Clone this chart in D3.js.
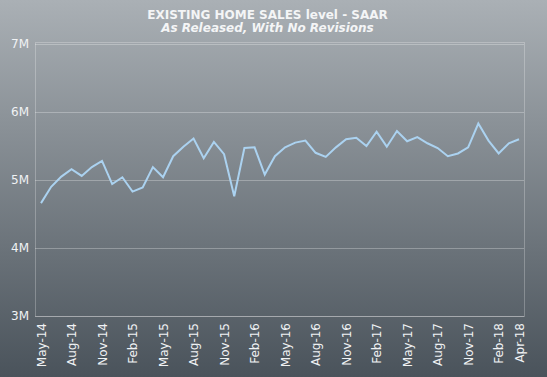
<!DOCTYPE html>
<html>
<head>
<meta charset="utf-8">
<script src="https://cdnjs.cloudflare.com/ajax/libs/d3/7.8.5/d3.min.js"></script>
<style>
  html, body { margin: 0; padding: 0; }
  body { width: 547px; height: 377px; overflow: hidden; }
  text { font-family: "DejaVu Sans", Verdana, sans-serif; }
</style>
</head>
<body>
<div id="chart"></div>
<script>
// months shown on the x axis (as released)
const months = [
  'May-14','Jun-14','Jul-14','Aug-14','Sep-14','Oct-14','Nov-14','Dec-14',
  'Jan-15','Feb-15','Mar-15','Apr-15','May-15','Jun-15','Jul-15','Aug-15',
  'Sep-15','Oct-15','Nov-15','Dec-15','Jan-16','Feb-16','Mar-16','Apr-16',
  'May-16','Jun-16','Jul-16','Aug-16','Sep-16','Oct-16','Nov-16','Dec-16',
  'Jan-17','Feb-17','Mar-17','Apr-17','May-17','Jun-17','Jul-17','Aug-17',
  'Sep-17','Oct-17','Nov-17','Dec-17','Jan-18','Feb-18','Mar-18','Apr-18'
];
// existing home sales, millions, SAAR
const sales = [
  4.66, 4.90, 5.05, 5.16, 5.06, 5.19, 5.28, 4.94,
  5.04, 4.83, 4.89, 5.19, 5.04, 5.35, 5.49, 5.61,
  5.32, 5.56, 5.38, 4.76, 5.47, 5.48, 5.08, 5.35,
  5.48, 5.55, 5.58, 5.40, 5.34, 5.48, 5.60, 5.62,
  5.50, 5.71, 5.49, 5.72, 5.57, 5.63, 5.54, 5.47,
  5.35, 5.39, 5.48, 5.83, 5.58, 5.39, 5.54, 5.60
];
const tickLabels = ['May-14','Aug-14','Nov-14','Feb-15','May-15','Aug-15','Nov-15','Feb-16',
  'May-16','Aug-16','Nov-16','Feb-17','May-17','Aug-17','Nov-17','Feb-18','Apr-18'];
const yTicks = [3, 4, 5, 6, 7];

const width = 547, height = 377;
const box = {left: 35, top: 42, right: 524, bottom: 316};

const svg = d3.select('#chart').append('svg')
  .attr('width', width)
  .attr('height', height);

const defs = svg.append('defs');
const grad = defs.append('linearGradient')
  .attr('id', 'bg')
  .attr('x1', 0).attr('y1', 0).attr('x2', 0).attr('y2', 1);
grad.append('stop').attr('offset', '0%').attr('stop-color', '#aab0b5');
grad.append('stop').attr('offset', '100%').attr('stop-color', '#4a535b');

svg.append('rect')
  .attr('width', width)
  .attr('height', height)
  .attr('fill', 'url(#bg)');

const x = d3.scalePoint()
  .domain(months)
  .range([41, 519]);
const y = d3.scaleLinear()
  .domain([3, 7])
  .range([box.bottom, 44]);

// gridlines
svg.append('g')
  .selectAll('line')
  .data(yTicks)
  .join('line')
  .attr('x1', box.left)
  .attr('x2', box.right)
  .attr('y1', d => y(d) + 0.5)
  .attr('y2', d => y(d) + 0.5)
  .attr('stroke', 'rgba(255,255,255,0.28)')
  .attr('stroke-width', 1);

// plot border
svg.append('rect')
  .attr('x', box.left + 0.5)
  .attr('y', box.top + 0.5)
  .attr('width', box.right - box.left)
  .attr('height', box.bottom - box.top)
  .attr('fill', 'none')
  .attr('stroke', 'rgba(255,255,255,0.25)');

// y axis labels
const yAxis = d3.axisLeft(y)
  .tickValues(yTicks)
  .tickSize(0)
  .tickPadding(6)
  .tickFormat(d => d + 'M');
svg.append('g')
  .attr('transform', `translate(${box.left},0)`)
  .call(yAxis)
  .call(g => g.select('.domain').remove())
  .call(g => g.selectAll('text')
    .attr('fill', '#f0f2f4')
    .style('font-size', '12px')
    .style('font-family', '"DejaVu Sans", Verdana, sans-serif'));

// x axis labels
const xAxis = d3.axisBottom(x)
  .tickValues(tickLabels)
  .tickSize(0);
svg.append('g')
  .attr('transform', `translate(0,${box.bottom})`)
  .call(xAxis)
  .call(g => g.select('.domain').remove())
  .call(g => g.selectAll('text')
    .attr('fill', '#f0f2f4')
    .style('font-size', '12px')
    .style('font-family', '"DejaVu Sans", Verdana, sans-serif')
    .attr('text-anchor', 'end')
    .attr('transform', 'rotate(-90)')
    .attr('x', -7)
    .attr('y', 0)
    .attr('dy', '0.35em'));

// line
const line = d3.line()
  .x((d, i) => x(months[i]))
  .y(d => y(d));
svg.append('path')
  .datum(sales)
  .attr('d', line)
  .attr('fill', 'none')
  .attr('stroke', '#abd2f0')
  .attr('stroke-width', 2)
  .attr('stroke-linejoin', 'miter');

// titles
svg.append('text')
  .attr('x', 267.5)
  .attr('y', 19)
  .attr('text-anchor', 'middle')
  .attr('fill', '#f4f5f6')
  .style('font-size', '12px')
  .style('font-weight', 'bold')
  .text('EXISTING HOME SALES level - SAAR');
svg.append('text')
  .attr('x', 267.5)
  .attr('y', 32)
  .attr('text-anchor', 'middle')
  .attr('fill', '#f4f5f6')
  .style('font-size', '12px')
  .style('font-weight', 'bold')
  .style('font-style', 'italic')
  .text('As Released, With No Revisions');
</script>
</body>
</html>
